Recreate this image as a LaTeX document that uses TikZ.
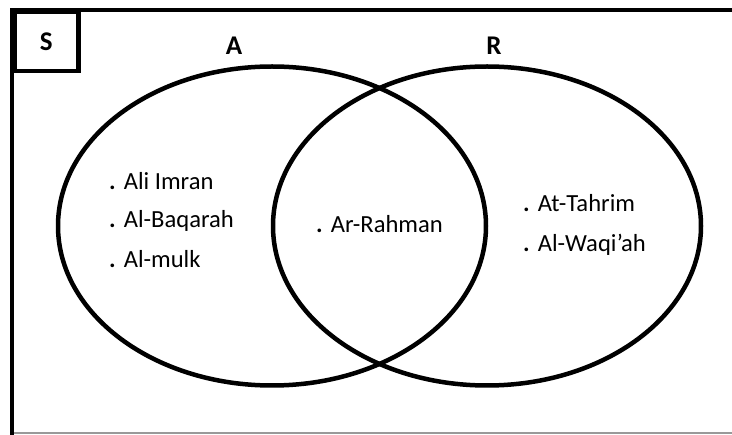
\documentclass[tikz,border=0pt]{standalone}
\usepackage{fontspec}
\setmainfont{Carlito}
\usetikzlibrary{shapes.geometric}
\tikzset{
  setshape/.style={draw=black, line width=4.5pt, ellipse, minimum width=428pt, minimum height=319pt, inner sep=0pt},
  item/.style={anchor=base west, inner sep=0pt, font=\fontsize{24.6}{29}\selectfont},
  setlabel/.style={inner sep=0pt, font=\fontsize{27}{32}\selectfont\bfseries},
  frameline/.style={line width=4.5pt, line cap=rect}
}
\newcommand{\bul}{\textbf{.}\hspace{8pt}}
\begin{document}
\begin{tikzpicture}[x=1pt,y=-1pt]
\useasboundingbox (0,0) rectangle (732,435);
\fill[white] (0,0) rectangle (732,435);
% frame
\coordinate (tl) at (12,10);
\coordinate (tr) at (734,10);
\coordinate (bl) at (12,433);
\coordinate (br) at (734,433);
\draw[black!40, line width=1.2pt] (bl) -- (br);
\draw[frameline] (tr) -- (tl) -- (bl);
% S box
\node[draw, line width=4.5pt, minimum width=64pt, minimum height=59pt, inner sep=0pt, anchor=north west] (sbox) at (12,10) {};
\node[setlabel] (S) at (sbox.center) {S};
% ellipses
\node[setshape] (setA) at (272,226) {};
\node[setshape] (setR) at (487,226) {};
\node[setlabel] (lA) at (234,46) {A};
\node[setlabel] (lR) at (494,46) {R};
% items
\node[item] (a1) at (109,190) {\bul Ali Imran};
\node[item] (a2) at (109,228) {\bul Al-Baqarah};
\node[item] (a3) at (109,268) {\bul Al-mulk};
\node[item] (ar) at (316,233) {\bul Ar-Rahman};
\node[item] (r1) at (523,212) {\bul At-Tahrim};
\node[item] (r2) at (523,252) {\bul Al-Waqi’ah};
\end{tikzpicture}
\end{document}
